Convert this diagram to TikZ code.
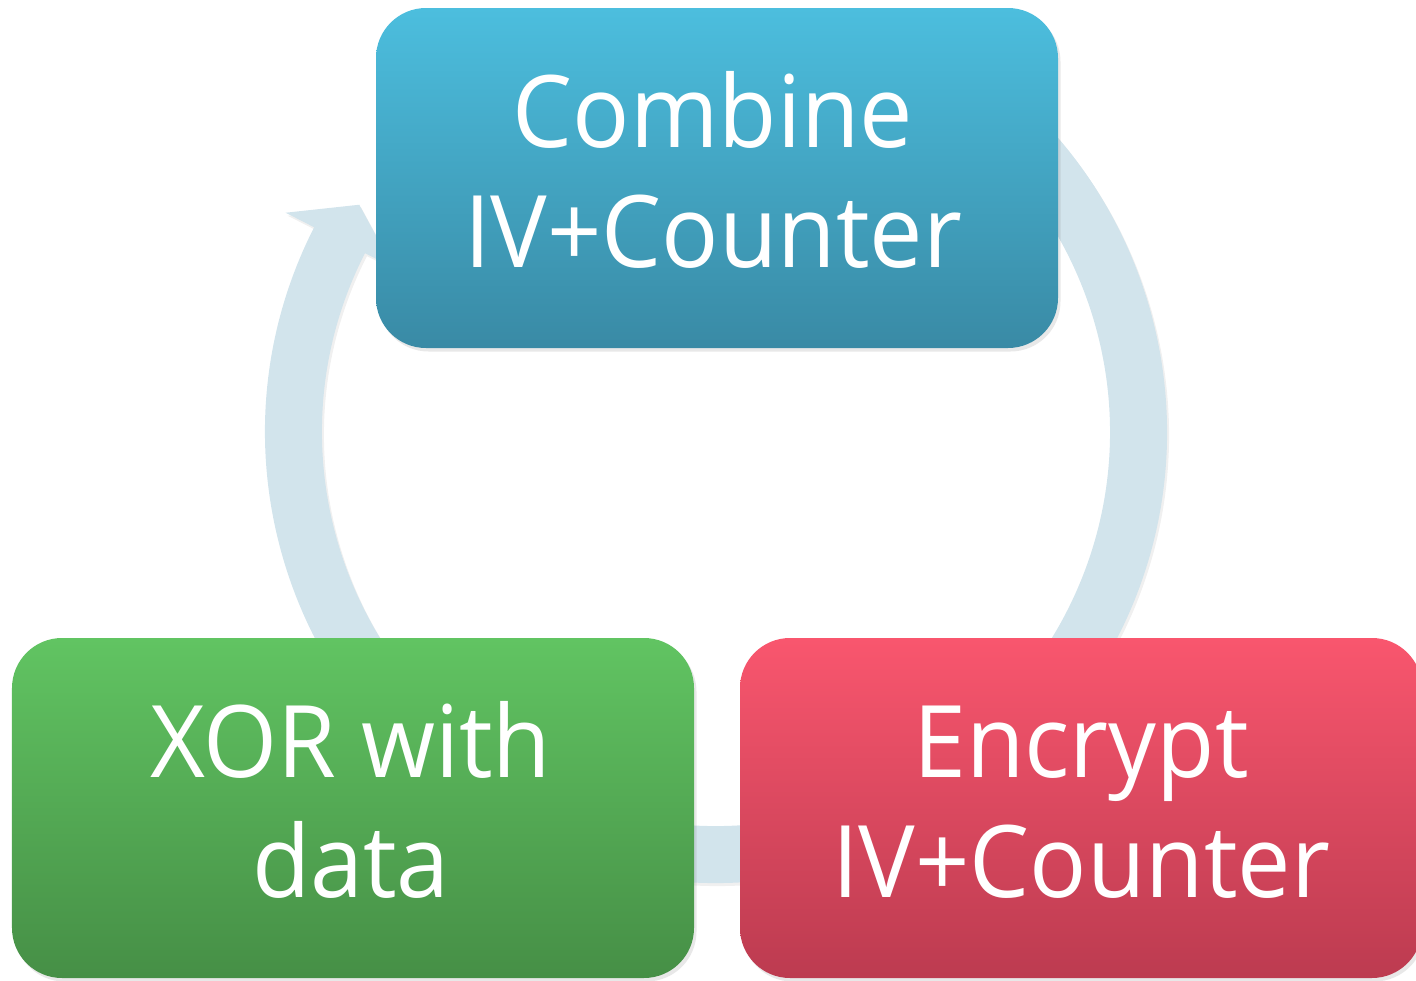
\documentclass[tikz,border=0pt]{standalone}
\usepackage{fontspec}
\setmainfont{Open Sans}[FakeStretch=0.95]
\usetikzlibrary{shadows}

\definecolor{ringblue}{HTML}{D2E4EC}
\definecolor{blueTop}{HTML}{4CBEDE}
\definecolor{blueBot}{HTML}{398AA5}
\definecolor{greenTop}{HTML}{61C462}
\definecolor{greenBot}{HTML}{468F46}
\definecolor{redTop}{HTML}{F9566E}
\definecolor{redBot}{HTML}{BC3B50}

\tikzset{
  stagebox/.style={
    rounded corners=0.5cm, minimum width=6.82cm, minimum height=3.4cm,
    inner sep=0pt,
    drop shadow={opacity=0.18, shadow xshift=0.025cm, shadow yshift=-0.035cm}
  },
  bluebox/.style={stagebox, top color=blueTop, bottom color=blueBot},
  greenbox/.style={stagebox, top color=greenTop, bottom color=greenBot},
  redbox/.style={stagebox, top color=redTop, bottom color=redBot},
  stagetext/.style={inner sep=0pt, align=center, text=white, anchor=south,
    font=\fontsize{28.5}{34.1}\selectfont},
  cyclering/.style={fill=ringblue,
    drop shadow={opacity=0.12, shadow xshift=0.02cm, shadow yshift=-0.03cm}}
}

\begin{document}
\begin{tikzpicture}
\useasboundingbox (0,0) rectangle (14.16,9.8);
\clip (0,0) rectangle (14.16,9.8);

% circular arrow running clockwise through the three stages
\begin{scope}[shift={(7.16,5.48)}]
  \coordinate (hub) at (0,0);
  \path[cyclering]
    (420:4.51) arc[start angle=420, end angle=153, radius=4.51]
    -- (153:4.83) -- (147.5:4.23) -- (153:3.62) -- (153:3.94)
    arc[start angle=153, end angle=420, radius=3.94] -- cycle;
\end{scope}

% the three stages
\node[bluebox]  (combine) at (7.17,8.02) {};
\node[greenbox] (xor)     at (3.53,1.72) {};
\node[redbox]   (encrypt) at (10.81,1.72) {};

% their labels, set on the baseline of the last line
\node[stagetext] (combineText) at (7.13,7.11) {Combine\\IV+Counter};
\node[stagetext] (xorText)     at (3.51,0.81) {XOR with\\data};
\node[stagetext] (encryptText) at (10.81,0.81) {Encrypt\\IV+Counter};
\end{tikzpicture}
\end{document}
